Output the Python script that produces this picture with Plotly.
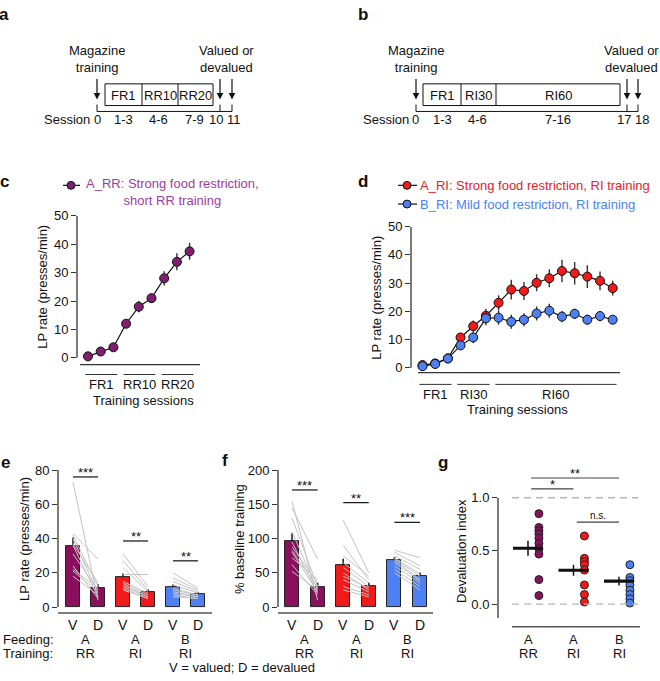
import plotly.graph_objects as go

W, H = 660, 681


def X(px):
    return px / W


def Y(py):
    return 1 - py / H


FONT = "Liberation Sans, Arial, Helvetica, sans-serif"
FS = 13
PURPLE = "#8A0F5C"
PURPLE_MK = "#7E1F72"
PURPLE_TXT = "#A13C9F"
RED = "#F01A1A"
RED_TXT = "#E8202A"
BLUE = "#4F80F2"
BLUE_TXT = "#4C82EE"
INK = "#111111"
AXIS = "#333333"
GREY = "#c4c4c4"
DASH_GREY = "#b5b5b5"

# ------------------------------------------------------------------ data
a_stages = ["FR1", "RR10", "RR20"]
a_session_labels = ["0", "1-3", "4-6", "7-9", "10", "11"]
b_stages = ["FR1", "RI30", "RI60"]
b_session_labels = ["0", "1-3", "4-6", "7-16", "17", "18"]

c_sessions = [1, 2, 3, 4, 5, 6, 7, 8, 9]
c_rate = [0.5, 2.2, 3.7, 12.0, 18.0, 21.0, 28.0, 33.8, 37.5]
c_sem = [0.4, 0.6, 0.8, 1.3, 2.0, 1.6, 2.5, 3.0, 3.0]
c_group_names = ["FR1", "RR10", "RR20"]
c_group_start = [1, 4, 7]
c_group_end = [3, 6, 9]

d_sessions = list(range(1, 17))
d_a_rate = [0.9, 1.5, 3.3, 10.7, 14.7, 18.4, 23.0, 27.7, 27.2, 30.1, 31.7, 34.3, 33.5, 32.3, 30.8, 28.2]
d_a_sem = [0.4, 0.5, 0.7, 1.2, 2.0, 2.5, 2.7, 3.5, 3.2, 3.0, 3.2, 4.0, 4.0, 4.0, 3.3, 2.6]
d_b_rate = [0.5, 1.3, 3.2, 7.9, 10.7, 17.5, 17.7, 16.3, 17.0, 19.2, 20.2, 18.1, 19.1, 17.0, 18.3, 17.0]
d_b_sem = [0.4, 0.5, 0.7, 1.3, 2.0, 2.5, 2.5, 2.5, 2.3, 2.5, 2.5, 2.0, 1.8, 1.8, 1.8, 1.5]
d_group_names = ["FR1", "RI30", "RI60"]
d_group_start = [1, 4, 7]
d_group_end = [3, 6, 16]

bar_labels = ["V", "D", "V", "D", "V", "D"]
group_feeding = ["A", "A", "B"]
group_training = ["RR", "RI", "RI"]

e_mean = [35.9, 11.3, 17.3, 8.8, 11.9, 7.5]
e_sem = [4.8, 2.0, 2.3, 1.6, 1.3, 1.1]
e_arr_v = [73, 43, 42, 40, 37, 36, 31, 24, 21, 18, 22]
e_arr_d = [4, 28, 12, 8, 14, 6, 10, 5, 9, 7, 11]
e_ari_v = [31, 27, 23, 19, 15, 14, 13, 12, 11, 10]
e_ari_d = [12, 10, 9, 19, 8, 7, 6, 6, 5, 5]
e_bri_v = [20, 17, 15, 13, 11, 10, 9, 8, 7, 6]
e_bri_d = [11, 10, 9, 8, 7, 7, 6, 6, 5, 5]
e_sig_y = [76, 38.6, 27]
e_sig_text = ["***", "**", "**"]

f_mean = [96.8, 29.7, 60.9, 31.2, 68.0, 45.6]
f_sem = [11.0, 5.8, 9.6, 4.8, 5.0, 4.8]
f_arr_v = [155, 145, 130, 110, 95, 88, 83, 80, 72, 62, 52]
f_arr_d = [10, 70, 30, 25, 20, 35, 28, 22, 40, 18, 25]
f_ari_v = [127, 90, 75, 65, 58, 50, 45, 40, 30, 25]
f_ari_d = [50, 40, 45, 35, 30, 25, 28, 22, 18, 15]
f_bri_v = [83, 80, 75, 72, 70, 68, 65, 60, 55, 50]
f_bri_d = [72, 60, 55, 48, 45, 40, 38, 35, 30, 25]
f_sig_y = [171, 152.5, 123.7]
f_sig_text = ["***", "**", "***"]

g_arr = [0.85, 0.72, 0.69, 0.66, 0.62, 0.57, 0.52, 0.47, 0.23, 0.08]
g_ari = [0.64, 0.43, 0.40, 0.37, 0.32, 0.18, 0.09, 0.02]
g_bri = [0.37, 0.25, 0.22, 0.18, 0.13, 0.09, 0.05, 0.01]
g_mean = [0.525, 0.318, 0.215]
g_sem = [0.07, 0.052, 0.041]
g_sig_from = [0, 0, 1]
g_sig_to = [2, 1, 2]
g_sig_y = [1.185, 1.083, 0.77]
g_sig_text = ["**", "*", "n.s."]

# ------------------------------------------------------------------ figure
fig = go.Figure()
shapes = []
annotations = []


def ann(text, px, py, size=FS, color=INK, xanchor="center", yanchor="middle",
        bold=False, align="center", angle=0, xref=None, x=None, yref=None, y=None):
    if bold:
        text = "<b>" + text + "</b>"
    annotations.append(dict(
        text=text, x=X(px) if x is None else x, y=Y(py) if y is None else y,
        xref=xref or "paper", yref=yref or "paper", borderpad=0,
        xanchor=xanchor, yanchor=yanchor, showarrow=False, align=align,
        textangle=angle, font=dict(family=FONT, size=size, color=color)))


def pline(x0, y0, x1, y1, color=INK, width=1.0, dash=None):
    shapes.append(dict(type="line", xref="paper", yref="paper",
                       x0=X(x0), y0=Y(y0), x1=X(x1), y1=Y(y1),
                       line=dict(color=color, width=width, dash=dash)))


def arrow(px, ptop, pbot):
    annotations.append(dict(text="", x=X(px), y=Y(pbot), xref="paper", yref="paper",
                            ax=0, ay=-(pbot - ptop), showarrow=True, arrowhead=2,
                            arrowsize=1.1, arrowwidth=1.2, arrowcolor=INK))


# ---------------- panels a & b (schematics)
def schematic(letter, lx, mag_x, box_edges, stages, arrows_x, sess_x, sess_labels, val_x):
    ann(letter, lx, 8, size=17, bold=True)
    ann("Magazine<br>training", mag_x, 53)
    ann("Valued or<br>devalued", val_x, 53)
    arrow(mag_x, 72, 94)
    for ax_ in arrows_x:
        arrow(ax_, 72, 94)
    shapes.append(dict(type="rect", xref="paper", yref="paper",
                       x0=X(box_edges[0]), x1=X(box_edges[-1]), y0=Y(100), y1=Y(78),
                       line=dict(color=INK, width=1)))
    for e in box_edges[1:-1]:
        pline(e, 78, e, 100, width=1)
    for i, s in enumerate(stages):
        ann(s, (box_edges[i] + box_edges[i + 1]) / 2, 89.5)
    pline(mag_x, 106, arrows_x[-1], 106, width=1)
    for t in [mag_x] + list(arrows_x):
        pline(t, 99, t, 106, width=1)
    ann("Session", sess_x[0] - 6, 114, xanchor="right")
    for xx, lab in zip(sess_x, sess_labels):
        ann(lab, xx, 114)


schematic("a", 4, 97, [105, 142, 178, 213], a_stages, [220, 232],
          [97, 123, 158, 194, 216, 234], a_session_labels, 226)
schematic("b", 363, 416, [423, 461, 496, 620], b_stages, [627, 638],
          [416, 442, 477, 558, 624, 642], b_session_labels, 631)

# ---------------- axes helper
axis_font = dict(family=FONT, size=FS, color=INK)


def yax(domain_px, rng, tickvals, ticktext=None):
    d = dict(domain=[Y(domain_px[0]), Y(domain_px[1])], range=rng, tickvals=tickvals,
             ticks="outside", ticklen=5, tickwidth=1.3, tickcolor=AXIS,
             showline=False, showgrid=False, zeroline=False, tickfont=axis_font,
             fixedrange=True)
    if ticktext is not None:
        d["ticktext"] = ticktext
    return d


def xax(domain_px, rng):
    return dict(domain=[X(domain_px[0]), X(domain_px[1])], range=rng, visible=False,
                showgrid=False, zeroline=False, fixedrange=True)


# g: 0 at 606 px, 108 px per unit; range extended above 1.0 for significance bars
G_TOP = 1.25
fig.update_layout(
    xaxis=xax((77, 200), [1 + (77 - 88) / 12.7, 1 + (200 - 88) / 12.7]),
    yaxis=yax((363, 212), [-(363 - 356) / 2.88, 50], [0, 10, 20, 30, 40, 50]),
    xaxis2=xax((411, 620), [1 + (411 - 422.5) / 12.68, 1 + (620 - 422.5) / 12.68]),
    yaxis2=yax((371, 223), [-(371 - 366) / 2.86, 50], [0, 10, 20, 30, 40, 50]),
    xaxis3=xax((58, 212), [(58 - 73) / 25, (212 - 73) / 25]),
    yaxis3=yax((615, 470), [-(615 - 609) / 1.7375, 80], [0, 20, 40, 60, 80]),
    xaxis4=xax((278, 433), [(278 - 292) / 25.6, (433 - 292) / 25.6]),
    yaxis4=yax((615, 470), [-(615 - 609) / 0.695, 200], [0, 50, 100, 150, 200]),
    xaxis5=xax((498, 645), [(498 - 528) / 45.5, (645 - 528) / 45.5]),
    yaxis5=yax((629, 606 - G_TOP * 108), [-(629 - 606) / 108, G_TOP], [0, 0.5, 1.0],
               ["0.0", "0.5", "1.0"]),
)
for i in range(2, 6):
    fig.layout["yaxis%d" % i].anchor = "x%d" % i
    fig.layout["xaxis%d" % i].anchor = "y%d" % i


def axline(xref, yref, y0, y1):
    shapes.append(dict(type="line", xref=xref + " domain", yref=yref, x0=0, x1=0,
                       y0=y0, y1=y1, line=dict(color=AXIS, width=1.3)))


# ---------------- panel c
ann("c", 4, 177, size=17, bold=True)
fig.add_trace(go.Scatter(
    x=c_sessions, y=c_rate, mode="lines+markers", xaxis="x", yaxis="y",
    line=dict(color=INK, width=1.2),
    marker=dict(size=9, color=PURPLE_MK, line=dict(color=INK, width=1)),
    error_y=dict(type="data", array=c_sem, width=0, thickness=1.4, color="#333"),
    cliponaxis=False, showlegend=False, hoverinfo="skip"))
axline("x", "y", 0, 50)
pline(80, 363, 200, 363, color=AXIS, width=1.3)
for n, s0, s1 in zip(c_group_names, c_group_start, c_group_end):
    shapes.append(dict(type="line", xref="x", yref="paper", x0=s0 - 0.2, x1=s1 + 0.3,
                       y0=Y(373), y1=Y(373), line=dict(color=AXIS, width=1)))
    ann(n, 0, 383, xref="x", x=(s0 + s1) / 2 + 0.05)
ann("Training sessions", 143, 399)
ann("LP rate (presses/min)", 43, 284, angle=-90)
# legend c
pline(63, 181, 80, 181, width=1.2)
shapes.append(dict(type="circle", xref="paper", yref="paper", x0=X(67), x1=X(75),
                   y0=Y(185), y1=Y(177), fillcolor=PURPLE_MK, line=dict(color=INK, width=1)))
ann("A_RR: Strong food restriction,<br>short RR training", 85, 188,
    color=PURPLE_TXT, xanchor="left")

# ---------------- panel d
ann("d", 363, 177, size=17, bold=True)
for yy, sem, col in [(d_a_rate, d_a_sem, RED), (d_b_rate, d_b_sem, BLUE)]:
    fig.add_trace(go.Scatter(
        x=d_sessions, y=yy, mode="lines+markers", xaxis="x2", yaxis="y2",
        line=dict(color=INK, width=1.2),
        marker=dict(size=9, color=col, line=dict(color=INK, width=1)),
        error_y=dict(type="data", array=sem, width=0, thickness=1.4, color="#333"),
        cliponaxis=False, showlegend=False, hoverinfo="skip"))
axline("x2", "y2", 0, 50)
pline(418, 371, 620, 371, color=AXIS, width=1.3)
for n, s0, s1 in zip(d_group_names, d_group_start, d_group_end):
    shapes.append(dict(type="line", xref="x2", yref="paper", x0=s0 - 0.25, x1=s1 + 0.3,
                       y0=Y(383), y1=Y(383), line=dict(color=AXIS, width=1)))
    ann(n, 0, 393, xref="x2", x=(s0 + s1) / 2)
ann("Training sessions", 517, 409)
ann("LP rate (presses/min)", 377, 295, angle=-90)
for py, col, tcol, txt in [(181, RED, RED_TXT, "A_RI: Strong food restriction, RI training"),
                           (200, BLUE, BLUE_TXT, "B_RI: Mild food restriction, RI training")]:
    pline(398, py, 417, py, width=1.2)
    shapes.append(dict(type="circle", xref="paper", yref="paper", x0=X(403), x1=X(411),
                       y0=Y(py + 4), y1=Y(py - 4), fillcolor=col, line=dict(color=INK, width=1)))
    ann(txt, 419, py, color=tcol, xanchor="left")


# ---------------- panels e & f (bars)
def bar_panel(xa, ya, mean, sem, pairs, sig_y, sig_text):
    xs = list(range(len(mean)))
    fig.add_trace(go.Bar(
        x=xs, y=mean, width=0.54, xaxis=xa, yaxis=ya,
        marker=dict(color=[PURPLE, PURPLE, RED, RED, BLUE, BLUE],
                    line=dict(color="#222", width=1)),
        error_y=dict(type="data", array=sem, arrayminus=[0] * len(sem), symmetric=False,
                     width=0, thickness=1.6, color="#222"),
        showlegend=False, hoverinfo="skip"))
    lx, ly = [], []
    for g, (vv, dd) in enumerate(pairs):
        for v, d in zip(vv, dd):
            lx += [2 * g, 2 * g + 1, None]
            ly += [v, d, None]
    fig.add_trace(go.Scatter(x=lx, y=ly, mode="lines", xaxis=xa, yaxis=ya,
                             line=dict(color=GREY, width=1), showlegend=False,
                             hoverinfo="skip", cliponaxis=False))
    for g, (sy, st) in enumerate(zip(sig_y, sig_text)):
        shapes.append(dict(type="line", xref=xa, yref=ya, x0=2 * g, x1=2 * g + 1,
                           y0=sy, y1=sy, line=dict(color=INK, width=1.2)))
        annotations.append(dict(text=st, x=2 * g + 0.5, y=sy, xref=xa, yref=ya,
                                yanchor="bottom", xanchor="center", showarrow=False,
                                yshift=-4, borderpad=0,
                                font=dict(family=FONT, size=FS, color=INK)))
    for i, lab in enumerate(bar_labels):
        ann(lab, 0, 627, size=14, xref=xa, x=i)
    for g in range(3):
        ann(group_feeding[g], 0, 642, xref=xa, x=2 * g + 0.5)
        ann(group_training[g], 0, 656, xref=xa, x=2 * g + 0.5)


ann("e", 5, 462, size=17, bold=True)
bar_panel("x3", "y3", e_mean, e_sem,
          [(e_arr_v, e_arr_d), (e_ari_v, e_ari_d), (e_bri_v, e_bri_d)], e_sig_y, e_sig_text)
axline("x3", "y3", 0, 80)
pline(58, 615, 212, 615, color="#555", width=1.6)
ann("LP rate (presses/min)", 24, 540, angle=-90)
ann("Feeding:", 2, 642, xanchor="left")
ann("Training:", 2, 656, xanchor="left")

ann("f", 225, 460, size=17, bold=True)
bar_panel("x4", "y4", f_mean, f_sem,
          [(f_arr_v, f_arr_d), (f_ari_v, f_ari_d), (f_bri_v, f_bri_d)], f_sig_y, f_sig_text)
axline("x4", "y4", 0, 200)
pline(278, 615, 433, 615, color="#555", width=1.6)
ann("% baseline training", 239, 540, angle=-90)
ann("V = valued; D = devalued", 242, 670)

# ---------------- panel g
ann("g", 443, 462, size=17, bold=True)
for y0 in [0.0, 1.0]:
    shapes.append(dict(type="line", xref="x5", yref="y5", x0=-0.35, x1=2.42, y0=y0, y1=y0,
                       line=dict(color=DASH_GREY, width=1.4, dash="7px,5px")))
for ci, (vals, col) in enumerate([(g_arr, PURPLE), (g_ari, RED), (g_bri, BLUE)]):
    fig.add_trace(go.Scatter(
        x=[ci + 0.24] * len(vals), y=vals, mode="markers", xaxis="x5", yaxis="y5",
        marker=dict(size=8, color=col, line=dict(color="#222", width=1)),
        showlegend=False, hoverinfo="skip", cliponaxis=False))
mx, my, ex, ey = [], [], [], []
for ci, (m, s) in enumerate(zip(g_mean, g_sem)):
    mx += [ci - 0.33, ci + 0.33, None]
    my += [m, m, None]
    ex += [ci, ci, None]
    ey += [m - s, m + s, None]
fig.add_trace(go.Scatter(x=mx, y=my, mode="lines", xaxis="x5", yaxis="y5",
                         line=dict(color=INK, width=3.2), showlegend=False, hoverinfo="skip"))
fig.add_trace(go.Scatter(x=ex, y=ey, mode="lines", xaxis="x5", yaxis="y5",
                         line=dict(color=INK, width=1.5), showlegend=False, hoverinfo="skip"))
shapes.append(dict(type="line", xref="x5 domain", yref="y5", x0=0, x1=0, y0=-0.13, y1=1.0,
                   line=dict(color=AXIS, width=1.3)))
pline(512, 629, 640, 629, color="#555", width=1.6)
for a0, a1, sy, st in zip(g_sig_from, g_sig_to, g_sig_y, g_sig_text):
    shapes.append(dict(type="line", xref="x5", yref="y5", x0=a0 + 0.07, x1=a1, y0=sy, y1=sy,
                       line=dict(color="#444", width=1.2)))
    annotations.append(dict(text=st, x=(a0 + 0.07 + a1) / 2, y=sy, xref="x5", yref="y5",
                            yanchor="bottom", xanchor="center", showarrow=False,
                            yshift=-4 if "*" in st else 0, borderpad=0,
                            font=dict(family=FONT, size=FS if "*" in st else 10, color=INK)))
for ci in range(3):
    ann(group_feeding[ci], 0, 642, xref="x5", x=ci)
    ann(group_training[ci], 0, 656, xref="x5", x=ci)
ann("Devaluation index", 462, 552, angle=-90)

fig.update_layout(
    width=W, height=H, margin=dict(l=0, r=0, t=0, b=0),
    paper_bgcolor="white", plot_bgcolor="rgba(0,0,0,0)",
    shapes=shapes, annotations=annotations, showlegend=False,
    font=dict(family=FONT, size=FS, color=INK), bargap=0,
)

fig.write_html("out.html", config={"displayModeBar": False, "responsive": False},
               post_script="document.body.style.margin='0';")
